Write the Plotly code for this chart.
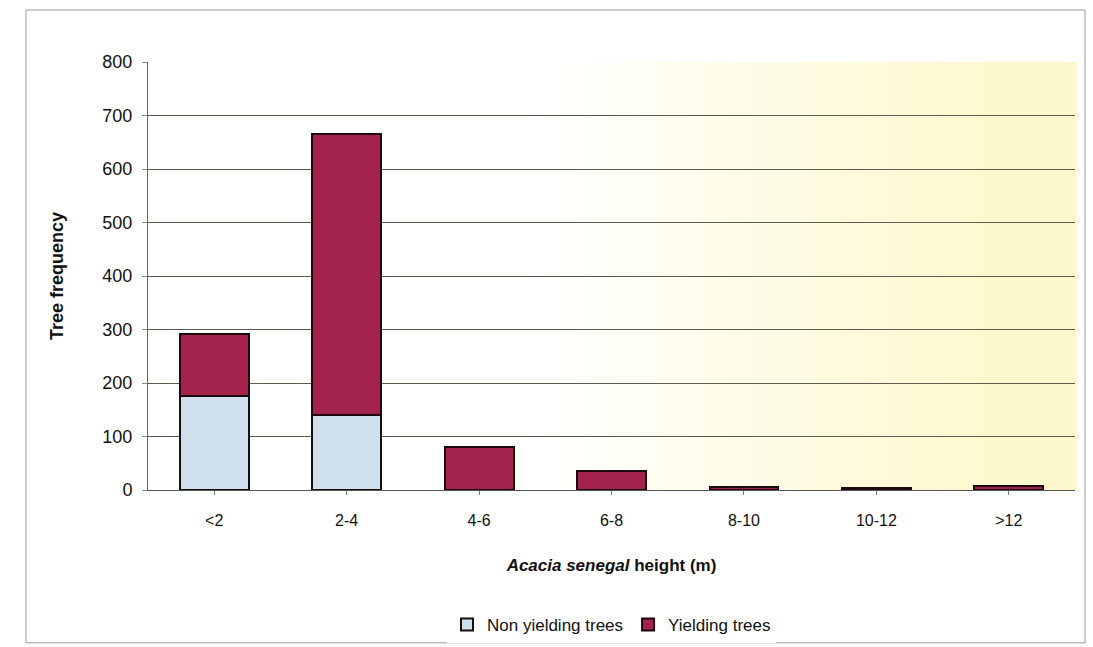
import plotly.graph_objects as go

categories = ["<2", "2-4", "4-6", "6-8", "8-10", "10-12", ">12"]
non_yielding = [175, 140, 0, 0, 0, 0, 0]
yielding = [117, 525, 80, 35, 5, 4, 7]
y_ticks = [0, 100, 200, 300, 400, 500, 600, 700, 800]

FONT = "Liberation Sans, Arial, sans-serif"

fig = go.Figure()
fig.add_trace(go.Bar(
    x=categories, y=non_yielding, name="Non yielding trees",
    marker=dict(color="#cfe0ec", line=dict(color="#111111", width=2)),
))
fig.add_trace(go.Bar(
    x=categories, y=yielding, name="Yielding trees",
    marker=dict(color="#a3234d", line=dict(color="#1a0a10", width=2)),
))

# background gradient: white on the left, pale yellow to the right
shapes = []
n = 40
for i in range(n):
    x0 = i / n
    x1 = (i + 1) / n
    t = min(1.0, max(0.0, (x0 - 0.4) / 0.5))
    r = 255 - int(t * 2)
    g = 255 - int(t * 7)
    b = 255 - int(t * 50)
    shapes.append(dict(type="rect", xref="x domain", yref="y domain",
                       x0=x0, x1=x1 + 0.002, y0=0, y1=1, layer="below",
                       line=dict(width=0), fillcolor=f"rgb({r},{g},{b})"))
# outer chart border
shapes.append(dict(type="rect", xref="paper", yref="paper",
                   x0=-0.1316, x1=1.0108, y0=-0.357, y1=1.1215,
                   line=dict(color="#9a9a9a", width=1), layer="below"))

fig.update_layout(
    barmode="stack",
    bargap=0.48,
    width=1093, height=647,
    margin=dict(l=148, r=18, t=62, b=157, autoexpand=False),
    paper_bgcolor="white",
    plot_bgcolor="white",
    font=dict(family=FONT, size=17, color="#111111"),
    shapes=shapes,
    legend=dict(orientation="h", x=0.5, xanchor="center",
                yref="container", y=0.034, yanchor="middle",
                font=dict(size=17, family=FONT), traceorder="normal",
                itemwidth=30),
    xaxis=dict(
        type="category",
        title=dict(text="<b><i>Acacia senegal</i> height (m)</b>",
                   font=dict(size=17, family=FONT), standoff=30),
        showline=True, linecolor="#555555", linewidth=1,
        ticks="outside", ticklen=4, tickcolor="#777777",
        ticklabelstandoff=12,
        tickfont=dict(size=16), showgrid=False,
    ),
    yaxis=dict(
        title=dict(text="<b>Tree frequency</b>", font=dict(size=18, family=FONT),
                   standoff=34),
        range=[0, 800], tickvals=y_ticks,
        showline=True, linecolor="#666666", linewidth=1,
        ticks="outside", ticklen=5, tickcolor="#888888",
        ticklabelstandoff=6,
        showgrid=True, gridcolor="#5c5c4c", gridwidth=1,
        tickfont=dict(size=18), zeroline=False,
    ),
)

fig.write_html("out.html", config={"displayModeBar": False})

# remove default page margin so the figure sits at the window origin
with open("out.html", "r", encoding="utf-8") as f:
    html = f.read()
html = html.replace("<head>", "<head><style>body{margin:0;}</style>", 1)
with open("out.html", "w", encoding="utf-8") as f:
    f.write(html)
